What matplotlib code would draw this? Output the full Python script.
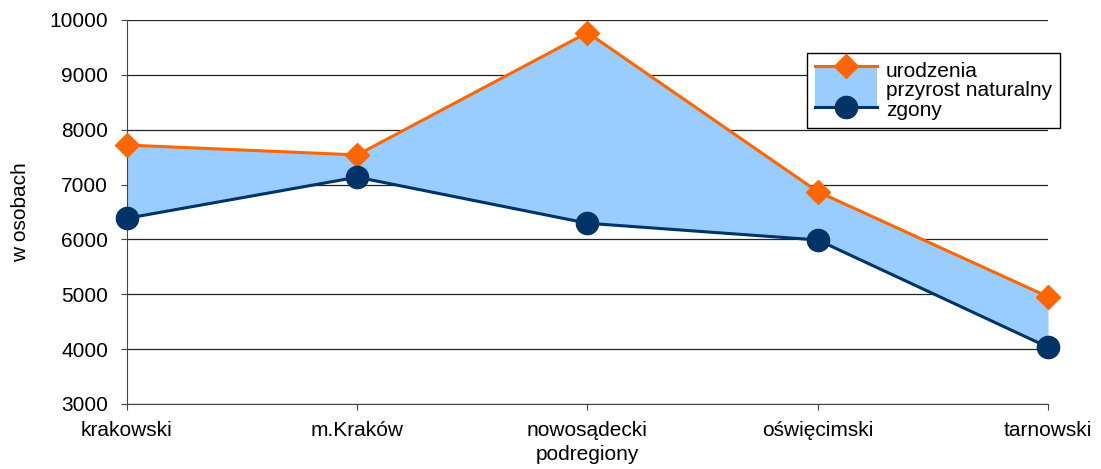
import matplotlib.pyplot as plt
from matplotlib.lines import Line2D
from matplotlib.patches import Patch, Rectangle
from matplotlib.legend_handler import HandlerBase

# podregiony malopolski
podregiony = ['krakowski', 'm.Kraków', 'nowosądecki', 'oświęcimski', 'tarnowski']
urodzenia = [7720, 7540, 9770, 6870, 4955]
zgony = [6385, 7135, 6295, 5990, 4035]

ORANGE = '#ff6600'
NAVY = '#003366'
FILL = '#99ccff'
FS = 15

plt.rcParams['font.family'] = ['Liberation Sans', 'DejaVu Sans']
plt.rcParams['font.size'] = FS


class AreaHandler(HandlerBase):
    # one handle for all three rows, like the excel legend
    def create_artists(self, legend, orig_handle, xdescent, ydescent,
                       width, height, fontsize, trans):
        row = fontsize * 0.99
        cy = height / 2 - ydescent + 1.8
        x0 = -xdescent
        rect = Rectangle((x0, cy - row), width, 2 * row, facecolor=FILL,
                         edgecolor='none', transform=trans)
        out = [rect]
        for dy, col, mk, ms in [(row, ORANGE, 'D', 12), (-row, NAVY, 'o', 16)]:
            out.append(Line2D([x0, x0 + width], [cy + dy] * 2, color=col,
                              lw=2.2, transform=trans))
            out.append(Line2D([x0 + width / 2], [cy + dy], color=col,
                              marker=mk, ms=ms, lw=0, transform=trans))
        return out


class NoHandler(HandlerBase):
    def create_artists(self, legend, orig_handle, xdescent, ydescent,
                       width, height, fontsize, trans):
        return [Line2D([], [], visible=False, transform=trans)]


fig = plt.figure(figsize=(11.01, 4.69), dpi=100)
ax = fig.add_axes([0.1153, 0.1386, 0.8366, 0.8188])

x = list(range(len(podregiony)))
ax.fill_between(x, zgony, urodzenia, color=FILL, linewidth=0, zorder=2)
ax.plot(x, urodzenia, color=ORANGE, lw=2.2, marker='D', ms=12, zorder=4,
        clip_on=False)
ax.plot(x, zgony, color=NAVY, lw=2.2, marker='o', ms=16, zorder=4,
        clip_on=False)

ax.set_xlim(0, len(podregiony) - 1)
ax.set_ylim(3000, 10000)
ax.set_yticks(range(3000, 10001, 1000))
ax.set_xticks(x)
ax.set_xticklabels(podregiony)
ax.yaxis.grid(True, color='#222222', lw=0.9)
ax.set_axisbelow(True)

for s in ['top', 'right']:
    ax.spines[s].set_visible(False)
ax.spines['left'].set_color('#444444')
ax.spines['bottom'].set_color('#444444')
ax.tick_params(axis='both', direction='out', length=4.5, color='#444444',
               labelsize=FS)
ax.tick_params(axis='x', pad=8)
ax.tick_params(axis='y', pad=9)

ax.set_xlabel('podregiony', fontsize=FS, labelpad=3)
ax.set_ylabel('w osobach', fontsize=FS, labelpad=14)

h_top = Line2D([], [])
h_mid = Patch()
h_bot = Line2D([], [], ls='none')
labels = ['urodzenia', 'przyrost naturalny', 'zgony']
leg = ax.legend([h_top, h_mid, h_bot], labels, loc='upper left',
                bbox_to_anchor=(0.738, 0.913), fancybox=False,
                edgecolor='black', framealpha=1,
                labelspacing=0.03, handlelength=2.95, handletextpad=0.45,
                borderpad=0.4, borderaxespad=0, fontsize=FS,
                handler_map={h_top: NoHandler(), h_mid: AreaHandler(),
                             h_bot: NoHandler()})
leg.get_frame().set_linewidth(1.0)
leg.set_zorder(5)

fig.savefig('out.png', dpi=100)
